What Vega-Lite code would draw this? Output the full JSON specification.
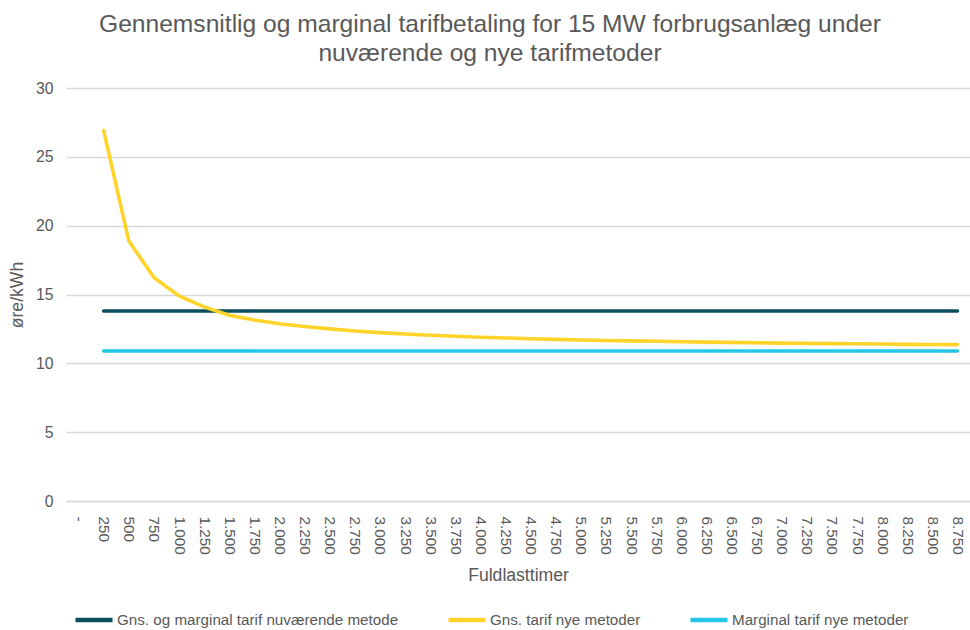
{
  "$schema": "https://vega.github.io/schema/vega-lite/v6.json",
  "autosize": "none",
  "width": 904,
  "height": 413,
  "padding": {"left": 66, "top": 88, "right": 0, "bottom": 129},
  "background": "white",
  "config": {
    "font": "Liberation Sans",
    "view": {"stroke": null}
  },
  "title": {
    "text": ["Gennemsnitlig og marginal tarifbetaling for 15 MW forbrugsanlæg under", "nuværende og nye tarifmetoder"],
    "fontSize": 24.6,
    "fontWeight": "normal",
    "color": "#595959",
    "lineHeight": 29,
    "offset": 13,
    "anchor": "middle",
    "dx": -28
  },
  "data": {
    "values": [
      {"t": "250", "a": 13.8, "g": 26.9, "m": 10.9},
      {"t": "500", "a": 13.8, "g": 18.9, "m": 10.9},
      {"t": "750", "a": 13.8, "g": 16.23, "m": 10.9},
      {"t": "1.000", "a": 13.8, "g": 14.9, "m": 10.9},
      {"t": "1.250", "a": 13.8, "g": 14.1, "m": 10.9},
      {"t": "1.500", "a": 13.8, "g": 13.5, "m": 10.9},
      {"t": "1.750", "a": 13.8, "g": 13.15, "m": 10.9},
      {"t": "2.000", "a": 13.8, "g": 12.88, "m": 10.9},
      {"t": "2.250", "a": 13.8, "g": 12.67, "m": 10.9},
      {"t": "2.500", "a": 13.8, "g": 12.5, "m": 10.9},
      {"t": "2.750", "a": 13.8, "g": 12.35, "m": 10.9},
      {"t": "3.000", "a": 13.8, "g": 12.23, "m": 10.9},
      {"t": "3.250", "a": 13.8, "g": 12.13, "m": 10.9},
      {"t": "3.500", "a": 13.8, "g": 12.04, "m": 10.9},
      {"t": "3.750", "a": 13.8, "g": 11.97, "m": 10.9},
      {"t": "4.000", "a": 13.8, "g": 11.9, "m": 10.9},
      {"t": "4.250", "a": 13.8, "g": 11.84, "m": 10.9},
      {"t": "4.500", "a": 13.8, "g": 11.79, "m": 10.9},
      {"t": "4.750", "a": 13.8, "g": 11.74, "m": 10.9},
      {"t": "5.000", "a": 13.8, "g": 11.7, "m": 10.9},
      {"t": "5.250", "a": 13.8, "g": 11.66, "m": 10.9},
      {"t": "5.500", "a": 13.8, "g": 11.63, "m": 10.9},
      {"t": "5.750", "a": 13.8, "g": 11.6, "m": 10.9},
      {"t": "6.000", "a": 13.8, "g": 11.57, "m": 10.9},
      {"t": "6.250", "a": 13.8, "g": 11.54, "m": 10.9},
      {"t": "6.500", "a": 13.8, "g": 11.52, "m": 10.9},
      {"t": "6.750", "a": 13.8, "g": 11.49, "m": 10.9},
      {"t": "7.000", "a": 13.8, "g": 11.47, "m": 10.9},
      {"t": "7.250", "a": 13.8, "g": 11.45, "m": 10.9},
      {"t": "7.500", "a": 13.8, "g": 11.43, "m": 10.9},
      {"t": "7.750", "a": 13.8, "g": 11.42, "m": 10.9},
      {"t": "8.000", "a": 13.8, "g": 11.4, "m": 10.9},
      {"t": "8.250", "a": 13.8, "g": 11.38, "m": 10.9},
      {"t": "8.500", "a": 13.8, "g": 11.37, "m": 10.9},
      {"t": "8.750", "a": 13.8, "g": 11.36, "m": 10.9}
    ]
  },
  "transform": [
    {"fold": ["a", "g", "m"], "as": ["serie", "value"]}
  ],
  "mark": {"type": "line", "strokeWidth": 3.6, "strokeCap": "round"},
  "encoding": {
    "x": {
      "field": "t",
      "type": "ordinal",
      "scale": {
        "type": "point",
        "padding": 0.5,
        "domain": ["-", "250", "500", "750", "1.000", "1.250", "1.500", "1.750", "2.000", "2.250", "2.500", "2.750", "3.000", "3.250", "3.500", "3.750", "4.000", "4.250", "4.500", "4.750", "5.000", "5.250", "5.500", "5.750", "6.000", "6.250", "6.500", "6.750", "7.000", "7.250", "7.500", "7.750", "8.000", "8.250", "8.500", "8.750"]
      },
      "axis": {
        "title": "Fuldlasttimer",
        "titleFontSize": 17.6,
        "titleFontWeight": "normal",
        "titleColor": "#595959",
        "titlePadding": 12,
        "labelAngle": 90,
        "labelAlign": "left",
        "labelBaseline": "middle",
        "labelFontSize": 15.3,
        "labelColor": "#595959",
        "labelPadding": 15,
        "labelOverlap": false,
        "ticks": false,
        "domainColor": "#d9d9d9",
        "domainWidth": 1.5,
        "grid": false
      }
    },
    "y": {
      "field": "value",
      "type": "quantitative",
      "scale": {"domain": [0, 30]},
      "axis": {
        "title": "øre/kWh",
        "titleFontSize": 17.6,
        "titleFontWeight": "normal",
        "titleColor": "#595959",
        "titlePadding": 9,
        "values": [0, 5, 10, 15, 20, 25, 30],
        "labelFontSize": 15.8,
        "labelColor": "#595959",
        "labelPadding": 13,
        "ticks": false,
        "domain": false,
        "gridColor": "#d9d9d9",
        "gridWidth": 1.3
      }
    },
    "color": {
      "field": "serie",
      "type": "nominal",
      "scale": {"domain": ["a", "g", "m"], "range": ["#0b4f5c", "#ffd42a", "#24c8e6"]},
      "legend": {
        "title": null,
        "orient": "none",
        "legendX": 7,
        "legendY": 511,
        "padding": 0,
        "direction": "horizontal",
        "symbolType": "stroke",
        "symbolStrokeWidth": 4.5,
        "symbolSize": 1369,
        "labelFontSize": 15.2,
        "labelColor": "#595959",
        "labelOffset": 2,
        "labelLimit": 400,
        "columnPadding": 40,
        "labelExpr": "datum.value == 'a' ? 'Gns. og marginal tarif nuværende metode' : datum.value == 'g' ? 'Gns. tarif nye metoder' : 'Marginal tarif nye metoder'"
      }
    }
  }
}
